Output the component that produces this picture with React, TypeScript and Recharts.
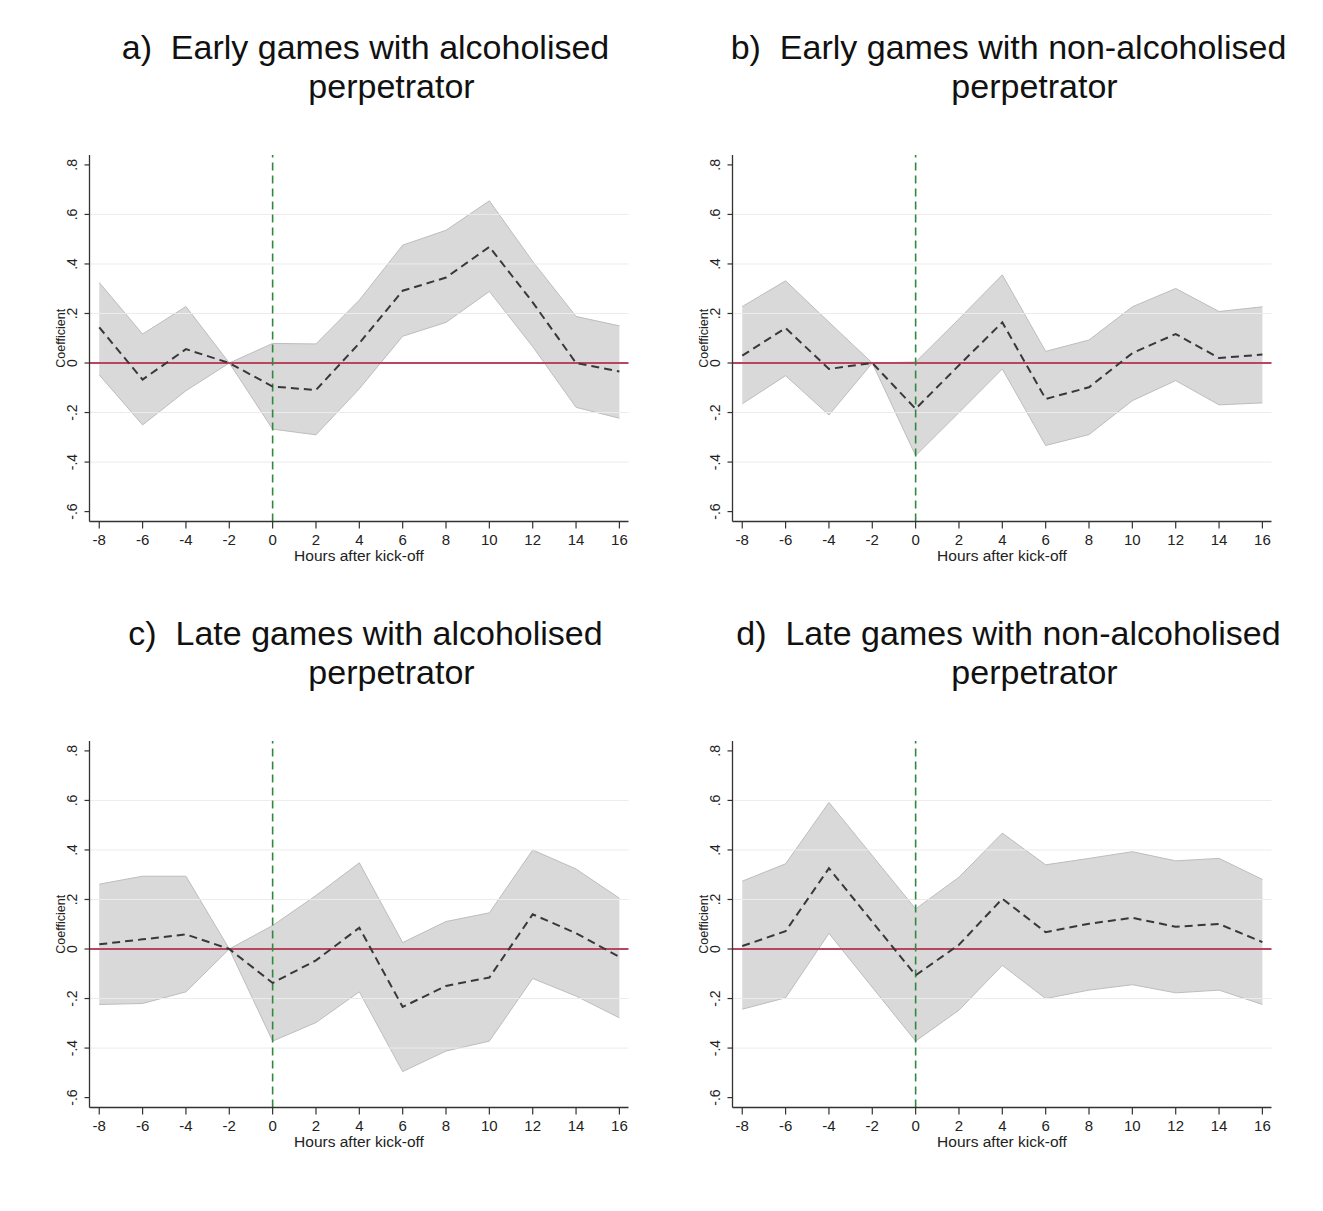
import React from 'react';
import { ComposedChart, Area, Line, XAxis, YAxis, ReferenceLine, Label } from 'recharts';

const hours = [-8, -6, -4, -2, 0, 2, 4, 6, 8, 10, 12, 14, 16];
const xTicks = [-8, -6, -4, -2, 0, 2, 4, 6, 8, 10, 12, 14, 16];
const yTicks = [-0.6, -0.4, -0.2, 0, 0.2, 0.4, 0.6, 0.8];
const yTickLabels = ['-.6', '-.4', '-.2', '0', '.2', '.4', '.6', '.8'];
const gridValues = [-0.4, -0.2, 0.2, 0.4, 0.6];

const aCoef = [0.144, -0.067, 0.056, 0, -0.095, -0.109, 0.08, 0.292, 0.345, 0.469, 0.245, 0.0, -0.034];
const aLower = [-0.048, -0.25, -0.112, 0, -0.267, -0.29, -0.104, 0.108, 0.164, 0.289, 0.066, -0.179, -0.223];
const aUpper = [0.325, 0.117, 0.228, 0, 0.079, 0.077, 0.254, 0.476, 0.536, 0.655, 0.41, 0.188, 0.15];

const bCoef = [0.03, 0.141, -0.024, 0, -0.185, -0.009, 0.164, -0.145, -0.098, 0.04, 0.117, 0.02, 0.034];
const bLower = [-0.165, -0.051, -0.21, 0, -0.374, -0.2, -0.024, -0.333, -0.289, -0.152, -0.071, -0.169, -0.161];
const bUpper = [0.228, 0.332, 0.165, 0, 0.004, 0.178, 0.356, 0.047, 0.093, 0.227, 0.301, 0.208, 0.227];

const cCoef = [0.019, 0.039, 0.059, 0, -0.137, -0.046, 0.086, -0.234, -0.149, -0.115, 0.14, 0.064, -0.032];
const cLower = [-0.224, -0.22, -0.173, 0, -0.372, -0.297, -0.173, -0.495, -0.412, -0.372, -0.119, -0.19, -0.278];
const cUpper = [0.262, 0.294, 0.294, 0, 0.095, 0.216, 0.348, 0.026, 0.111, 0.146, 0.4, 0.323, 0.205];

const dCoef = [0.012, 0.072, 0.326, null, -0.106, 0.017, 0.203, 0.068, 0.102, 0.126, 0.09, 0.101, 0.028];
const dLower = [-0.243, -0.197, 0.063, null, -0.372, -0.247, -0.066, -0.2, -0.166, -0.144, -0.177, -0.166, -0.224];
const dUpper = [0.274, 0.344, 0.592, null, 0.162, 0.29, 0.468, 0.34, 0.366, 0.393, 0.356, 0.366, 0.281];

const titleLine1 = [
  'a)  Early games with alcoholised',
  'b)  Early games with non-alcoholised',
  'c)  Late games with alcoholised',
  'd)  Late games with non-alcoholised',
];
const titleLine2 = ['perpetrator', 'perpetrator', 'perpetrator', 'perpetrator'];

const FONT = '"Liberation Sans", Arial, Helvetica, sans-serif';

type Row = { h: number; coef: number; band: [number, number] };

function buildRows(coef: (number | null)[], lower: (number | null)[], upper: (number | null)[]): Row[] {
  const rows: Row[] = [];
  hours.forEach((h, i) => {
    const c = coef[i];
    const lo = lower[i];
    const hi = upper[i];
    if (c === null || lo === null || hi === null) return;
    rows.push({ h, coef: c, band: [lo, hi] });
  });
  return rows;
}

const panels = [
  { rows: buildRows(aCoef, aLower, aUpper), left: 20, top: 0 },
  { rows: buildRows(bCoef, bLower, bUpper), left: 662.5, top: 0 },
  { rows: buildRows(cCoef, cLower, cUpper), left: 20, top: 586 },
  { rows: buildRows(dCoef, dLower, dUpper), left: 662.5, top: 586 },
];

const YTick = (props: any) => {
  const { x, y, payload } = props;
  const idx = yTicks.indexOf(payload.value);
  const label = idx >= 0 ? yTickLabels[idx] : String(payload.value);
  return (
    <text
      x={x}
      y={y}
      transform={`rotate(-90, ${x}, ${y})`}
      textAnchor="middle"
      fontFamily={FONT}
      fontSize={14}
      fill="#222"
    >
      {label}
    </text>
  );
};

const YTitle = (props: any) => {
  const vb = props.viewBox || {};
  const x = vb.x + vb.width - 25;
  const y = vb.y + vb.height / 2;
  return (
    <text
      x={x}
      y={y}
      transform={`rotate(-90, ${x}, ${y})`}
      textAnchor="middle"
      fontFamily={FONT}
      fontSize={12.5}
      fill="#222"
    >
      Coefficient
    </text>
  );
};

const XTitle = (props: any) => {
  const vb = props.viewBox || {};
  return (
    <text
      x={vb.x + vb.width / 2}
      y={vb.y + 39.5}
      textAnchor="middle"
      fontFamily={FONT}
      fontSize={15.5}
      fill="#222"
    >
      Hours after kick-off
    </text>
  );
};

function Panel({ idx }: { idx: number }) {
  const p = panels[idx];
  return (
    <div style={{ position: 'absolute', left: p.left, top: p.top, width: 640, height: 590 }}>
      <svg width={640} height={140} style={{ position: 'absolute', left: 0, top: 0 }}>
        <text x={345.5} y={59} textAnchor="middle" fontFamily={FONT} fontSize={34} fill="#111" style={{ whiteSpace: 'pre' }}>
          {titleLine1[idx]}
        </text>
        <text x={371.5} y={98} textAnchor="middle" fontFamily={FONT} fontSize={34} fill="#111">
          {titleLine2[idx]}
        </text>
      </svg>
      <div style={{ position: 'absolute', left: 0, top: 140 }}>
        <ComposedChart
          width={640}
          height={450}
          data={p.rows}
          margin={{ top: 15, right: 31.5, left: 0, bottom: 28.5 }}
        >
          <XAxis
            dataKey="h"
            type="number"
            domain={[-8.45, 16.42]}
            ticks={xTicks}
            interval={0}
            height={40}
            tickSize={7}
            tickMargin={6}
            axisLine={{ stroke: '#333', strokeWidth: 1.3 }}
            tickLine={{ stroke: '#333', strokeWidth: 1.2 }}
            tick={{ fontFamily: FONT, fontSize: 15, fill: '#222' }}
          >
            <Label content={XTitle} />
          </XAxis>
          <YAxis
            type="number"
            domain={[-0.64, 0.84]}
            ticks={yTicks}
            interval={0}
            width={69.5}
            tickSize={5}
            tickMargin={7}
            axisLine={{ stroke: '#333', strokeWidth: 1.3 }}
            tickLine={{ stroke: '#333', strokeWidth: 1.2 }}
            tick={<YTick />}
          >
            <Label content={YTitle} />
          </YAxis>
          {gridValues.map((g) => (
            <ReferenceLine key={g} y={g} stroke="#ececec" strokeWidth={1} />
          ))}
          <Area
            dataKey="band"
            type="linear"
            fill="#d9d9d9"
            fillOpacity={1}
            stroke="#bdbdbd"
            strokeWidth={1}
            isAnimationActive={false}
            activeDot={false}
            dot={false}
          />
          <ReferenceLine y={0} stroke="#b8465f" strokeWidth={2.2} />
          <ReferenceLine x={0} stroke="#2f8a3e" strokeWidth={1.6} strokeDasharray="8 5" />
          <Line
            dataKey="coef"
            type="linear"
            stroke="#383838"
            strokeWidth={2}
            strokeDasharray="8 5"
            dot={false}
            activeDot={false}
            isAnimationActive={false}
          />
        </ComposedChart>
      </div>
    </div>
  );
}

export default function App() {
  return (
    <div style={{ position: 'relative', width: 1323, height: 1211, background: '#fff' }}>
      <style>{'body{margin:0;background:#fff}'}</style>
      {panels.map((_, i) => (
        <Panel key={i} idx={i} />
      ))}
    </div>
  );
}
